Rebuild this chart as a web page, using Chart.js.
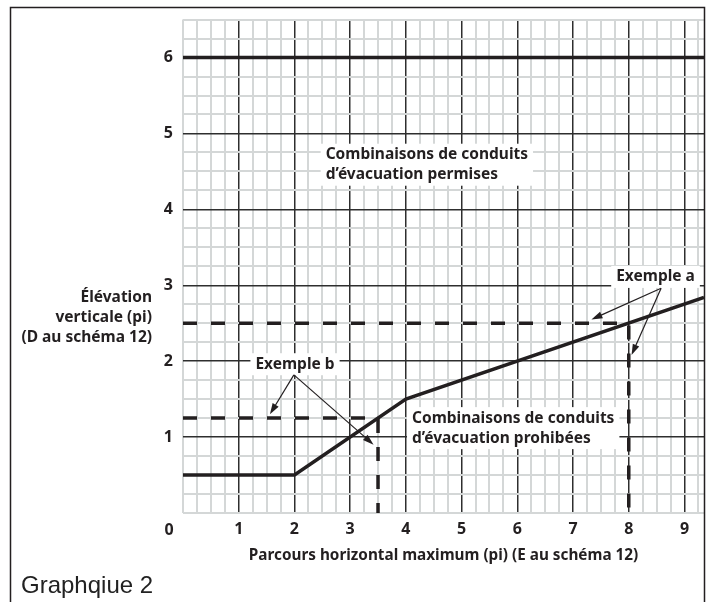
<!DOCTYPE html>
<html>
<head>
<meta charset="utf-8">
<script src="https://cdn.jsdelivr.net/npm/chart.js@4.4.1/dist/chart.umd.min.js"></script>
<style>
body { margin: 0; background: #fff; }
#wrap { width: 710px; height: 602px; }
</style>
</head>
<body>
<div id="wrap"><canvas id="myChart" width="710" height="602"></canvas></div>
<script>
// courbe limite (pi)
var limitX = [0, 2, 4, 9.35];
var limitY = [0.5, 0.5, 1.5, 2.84];
// élévation maximale
var topX = [0, 9.35];
var topY = [6, 6];
// exemples
var exAX = [0, 8, 8];
var exAY = [2.5, 2.5, 0];
var exBX = [0, 3.5, 3.5];
var exBY = [1.25, 1.25, 0];

var xTicks = ["1", "2", "3", "4", "5", "6", "7", "8", "9"];
var yTicks = ["1", "2", "3", "4", "5", "6"];
var minorStep = 0.25;
var xMax = 9.35;
var yMax = 6.5;

var xTitle = "Parcours horizontal maximum (pi) (E au schéma 12)";
var yTitle = ["Élévation", "verticale (pi)", "(D au schéma 12)"];
var caption = "Graphqiue 2";

// notes, ancrées en unités du graphique
var noteText = [
  ["Combinaisons de conduits", "d’évacuation permises"],
  ["Combinaisons de conduits", "d’évacuation prohibées"],
  ["Exemple a"],
  ["Exemple b"]
];
var noteX = [2.56, 4.11, 8.48, 2.01];
var noteY = [4.72, 1.25, 3.11, 1.96];
var noteAlign = ["left", "left", "center", "center"];

// flèches (départ -> pointe)
var arrowFromX = [8.58, 8.58, 1.99, 1.99];
var arrowFromY = [2.96, 2.96, 1.82, 1.82];
var arrowToX = [7.33, 8.05, 1.56, 3.42];
var arrowToY = [2.55, 2.08, 1.30, 0.90];

var ink = "#231f20";
var fam = "'Noto Sans', 'Open Sans', sans-serif";
var boldFont = "bold 15.5px " + fam;

function pts(xs, ys) {
  return xs.map(function (x, i) { return { x: x, y: ys[i] }; });
}

function isMajor(v) {
  var i = Math.round(v);
  return i > 0 && Math.abs(v - i) < 1e-6;
}

function gridColor(ctx) {
  return isMajor(ctx.tick.value) ? "#2e2e2e" : "#d4d7d7";
}
function gridWidth(ctx) {
  return isMajor(ctx.tick.value) ? 1.5 : 2;
}

function minorTicks(scale) {
  var t = [];
  var n = Math.floor(scale.max / minorStep + 1e-9);
  for (var i = 0; i <= n; i++) t.push({ value: i * minorStep });
  scale.ticks = t;
}

function drawArrow(ctx, x1, y1, x2, y2) {
  var a = Math.atan2(y2 - y1, x2 - x1);
  var len = 11, half = 3.5;
  ctx.beginPath();
  ctx.moveTo(x1, y1);
  ctx.lineTo(x2 - Math.cos(a) * len * 0.8, y2 - Math.sin(a) * len * 0.8);
  ctx.lineWidth = 1.2;
  ctx.stroke();
  ctx.beginPath();
  ctx.moveTo(x2, y2);
  ctx.lineTo(x2 - Math.cos(a) * len - Math.sin(a) * half, y2 - Math.sin(a) * len + Math.cos(a) * half);
  ctx.lineTo(x2 - Math.cos(a) * len + Math.sin(a) * half, y2 - Math.sin(a) * len - Math.cos(a) * half);
  ctx.closePath();
  ctx.fill();
}

var decor = {
  id: "decor",
  afterDraw: function (chart) {
    var ctx = chart.ctx;
    var xs = chart.scales.x, ys = chart.scales.y;
    var area = chart.chartArea;
    ctx.save();
    ctx.strokeStyle = ink;
    ctx.fillStyle = ink;

    // cadre
    ctx.lineWidth = 1.5;
    ctx.beginPath();
    ctx.moveTo(10.5, chart.height);
    ctx.lineTo(10.5, 7.5);
    ctx.lineTo(area.right + 0.5, 7.5);
    ctx.lineTo(area.right + 0.5, chart.height);
    ctx.stroke();

    // notes
    ctx.font = boldFont;
    ctx.textBaseline = "middle";
    noteText.forEach(function (lines, i) {
      var px = xs.getPixelForValue(noteX[i]);
      var py = ys.getPixelForValue(noteY[i]);
      var w = 0;
      lines.forEach(function (l) { w = Math.max(w, ctx.measureText(l).width); });
      var left = noteAlign[i] === "center" ? px - w / 2 : px;
      ctx.fillStyle = "#fff";
      ctx.fillRect(left - 5, py - 11, w + 10, lines.length * 20 + 2);
      ctx.fillStyle = ink;
      ctx.textAlign = "left";
      lines.forEach(function (l, k) { ctx.fillText(l, left, py + k * 20); });
    });

    // flèches
    arrowFromX.forEach(function (v, i) {
      drawArrow(ctx,
        xs.getPixelForValue(arrowFromX[i]), ys.getPixelForValue(arrowFromY[i]),
        xs.getPixelForValue(arrowToX[i]), ys.getPixelForValue(arrowToY[i]));
    });

    // titre vertical, horizontal à gauche
    ctx.textAlign = "right";
    var ty = ys.getPixelForValue(2.84);
    yTitle.forEach(function (l, k) { ctx.fillText(l, area.left - 31, ty + k * 20); });

    // origine
    ctx.font = "bold 16px " + fam;
    ctx.textAlign = "center";
    ctx.fillText("0", xs.getPixelForValue(0) - 14, area.bottom + 17);

    // légende du graphique
    ctx.font = "24px 'Liberation Sans'";
    ctx.textAlign = "left";
    ctx.textBaseline = "alphabetic";
    ctx.fillStyle = "#222";
    ctx.fillText(caption, 21, 593);
    ctx.restore();
  }
};

function showChart() {
  new Chart("myChart", {
    type: "scatter",
    data: {
      datasets: [
        { data: pts(topX, topY), showLine: true, borderColor: ink, borderWidth: 3.5, pointRadius: 0 },
        { data: pts(limitX, limitY), showLine: true, borderColor: ink, borderWidth: 3.5, pointRadius: 0, borderJoinStyle: "miter" },
        { data: pts(exAX, exAY), showLine: true, borderColor: ink, borderWidth: 3.5, pointRadius: 0, borderDash: [14, 14] },
        { data: pts(exBX, exBY), showLine: true, borderColor: ink, borderWidth: 3.5, pointRadius: 0, borderDash: [14, 14] }
      ]
    },
    options: {
      responsive: false,
      animation: false,
      layout: { padding: { top: 9, right: 6, left: 0, bottom: 0 } },
      plugins: { legend: { display: false }, tooltip: { enabled: false } },
      scales: {
        x: {
          type: "linear",
          min: 0,
          max: xMax,
          afterBuildTicks: minorTicks,
          afterFit: function (s) { s.height = 89; },
          border: { display: false },
          grid: { color: gridColor, lineWidth: gridWidth, drawTicks: false },
          ticks: {
            autoSkip: false,
            maxRotation: 0,
            padding: 7,
            color: ink,
            font: { family: fam, size: 16, weight: "bold" },
            callback: function (v) { return isMajor(v) ? xTicks[Math.round(v) - 1] : ""; }
          },
          title: {
            display: true,
            text: xTitle,
            color: ink,
            font: { family: fam, size: 15.3, weight: "bold" },
            padding: { top: 0, bottom: 37 }
          }
        },
        y: {
          type: "linear",
          min: 0,
          max: yMax,
          afterBuildTicks: minorTicks,
          afterFit: function (s) { s.width = 183; },
          border: { display: false },
          grid: { color: gridColor, lineWidth: gridWidth, drawTicks: false },
          ticks: {
            autoSkip: false,
            padding: 10,
            color: ink,
            font: { family: fam, size: 16, weight: "bold" },
            callback: function (v) { return isMajor(v) ? yTicks[Math.round(v) - 1] : ""; }
          }
        }
      }
    },
    plugins: [decor]
  });
}

window.addEventListener("load", showChart);
</script>
</body>
</html>
